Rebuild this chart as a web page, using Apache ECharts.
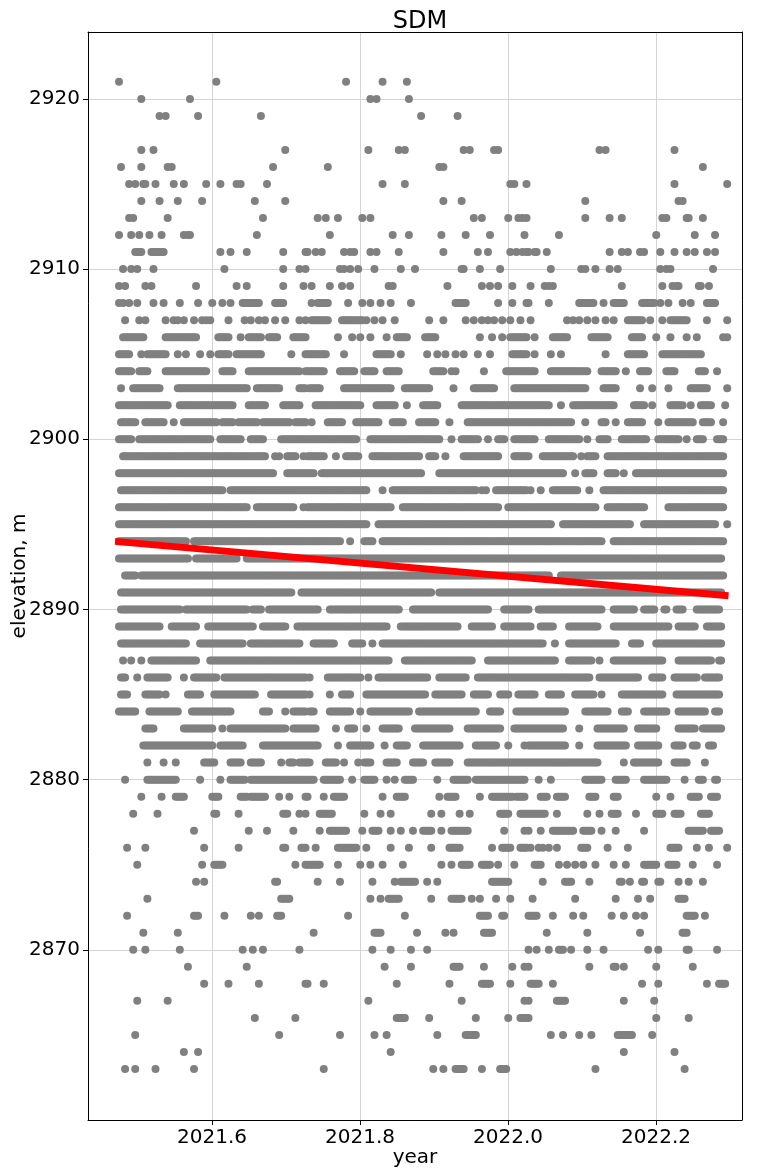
<!DOCTYPE html>
<html><head><meta charset="utf-8">
<script src="https://cdn.jsdelivr.net/npm/echarts@6/dist/echarts.min.js"></script>
<style>html,body{margin:0;padding:0;background:#fff}#c{width:764px;height:1175px}</style>
</head><body><div id="c"></div>
<script>
// time of first sample (decimal year); samples are daily
const startYear = 2021.4743;
const daysPerYear = 365;
// elevation levels (m), top to bottom
const levels = [2921,2920,2919,2918,2917,2916,2915,2914,2913,2912,2911,2910,2909,2908,2907,2906,2905,2904,2903,2902,2901,2900,2899,2898,2897,2896,2895,2894,2893,2892,2891,2890,2889,2888,2887,2886,2885,2884,2883,2882,2881,2880,2879,2878,2877,2876,2875,2874,2873,2872,2871,2870,2869,2868,2867,2866,2865,2864,2863];
// day indices (since first sample) where each level is observed; [a,b] = every day from a to b
const dayRuns = [
/*2921*/[0,48,112,130,142],
/*2920*/[11,35,124,127,143],
/*2919*/[20,23,39,70,149,167],
/*2918*/[],
/*2917*/[11,17,82,123,138,141,170,173,185,187,237,240,274],
/*2916*/[1,11,24,26,76,103,158,160,288],
/*2915*/[5,8,12,13,18,27,32,43,50,58,60,73,130,141,193,195,201,274,300],
/*2914*/[11,20,29,41,67,82,160,169,230,276,278],
/*2913*/[5,7,24,71,98,102,108,120,124,175,179,192,197,199,201,230,242,248,268,270,280,281,288],
/*2912*/[0,6,10,15,21,32,34,35,68,104,135,143,159,171,183,200,217,265,284,294],
/*2911*/[[8,11],[16,22],50,55,63,81,92,93,97,100,111,114,116,124,127,138,160,177,182,193,196,199,201,202,205,206,211,242,248,251,257,259,267,274,280,284,290,294],
/*2910*/[2,6,9,17,52,81,89,92,109,111,114,118,126,139,146,169,170,178,188,213,228,230,235,242,246,267,270,272,293],
/*2909*/[0,3,13,16,38,58,63,81,91,95,104,110,114,133,135,162,179,183,187,194,203,210,212,214,248,268,273,275,276,286,287,291],
/*2908*/[0,2,5,9,17,22,30,39,46,51,55,[61,69],[77,81],95,[98,103],113,120,124,129,134,144,[166,171],187,194,201,202,212,[227,234],239,[244,249],[258,264],267,271,278,282,[290,294]],
/*2907*/[3,10,13,23,27,29,32,37,41,43,45,54,62,65,69,72,77,82,89,92,[95,103],[110,120],122,126,130,136,153,160,171,175,179,182,185,189,193,198,203,221,224,227,231,235,240,244,[251,258],262,268,[272,280],290,300],
/*2906*/[[2,12],[23,38],[49,54],60,[64,70],[74,78],[86,92],108,115,119,124,132,[137,142],[151,156],178,184,189,[193,201],205,[214,221],[233,241],[253,258],265,272,280,285,298,300],
/*2905*/[[0,5],11,[14,23],29,33,40,45,[49,54],[58,70],85,92,[93,102],111,[127,134],139,152,157,161,166,170,177,183,[194,201],205,213,218,240,[251,259],[268,287]],
/*2904*/[[0,6],[10,14],[23,43],[51,56],[64,89],92,[93,101],[109,116],[121,126],[132,138],[155,160],164,166,180,[191,201],[202,205],[213,231],[238,245],250,[257,261],[270,274],[286,289],295],
/*2903*/[1,[7,20],[29,63],[68,79],[89,92],[94,99],[111,134],[141,153],165,[175,185],[195,201],[202,230],[239,245],257,263,271,[282,290],300],
/*2902*/[[0,24],[30,56],[64,72],[81,89],[97,119],[127,136],142,[150,157],[169,201],[202,212],218,[224,244],[254,259],263,[272,278],282,[287,292],299],
/*2901*/[[1,8],[13,22],27,[32,48],[51,56],[59,68],[71,84],[87,92],95,[103,110],[117,128],[135,140],[148,156],163,[172,201],[202,223],230,[238,240],245,[251,258],266,[271,283],[288,292],298],
/*2900*/[[0,6],[10,45],[50,60],[65,71],[80,92],[93,117],[124,158],164,[169,177],182,[187,190],[195,201],[202,205],[212,227],231,[237,241],[248,260],[266,276],280,[285,288],[295,298]],
/*2899*/[[2,72],77,79,[83,87],91,[93,101],107,[112,118],[125,148],[153,156],161,[170,187],[195,201],202,[209,224],228,[231,235],[241,298]],
/*2898*/[[0,76],[83,92],[93,96],[100,149],[158,201],[202,219],225,[230,234],[241,245],249,[255,298]],
/*2897*/[[1,51],[55,92],[93,122],130,[135,176],179,181,[186,201],203,208,[214,226],232,[239,298]],
/*2896*/[[0,63],[68,86],91,[93,134],[140,187],[192,201],[202,235],[241,259],[271,298]],
/*2895*/[[0,122],[128,213],[219,252],[259,294],300],
/*2894*/[[0,33],[37,109],114,[121,125],[130,238],[244,298]],
/*2893*/[[0,34],[38,58],[63,297]],
/*2892*/[[3,8],[11,212],[218,298]],
/*2891*/[[1,85],[90,154],[158,297]],
/*2890*/[[1,30],[33,63],[66,70],[74,98],[104,138],[145,182],[190,202],[207,238],[244,254],[259,264],[269,270],[275,278],[285,296]],
/*2889*/[[0,20],[26,38],[44,66],[71,82],[88,132],[139,167],[174,184],[190,203],[208,214],[222,236],[244,271],[276,284],[290,297]],
/*2888*/[[1,33],[40,61],[65,89],[96,106],[115,120],125,[130,209],215,[222,245],[253,257],[265,297]],
/*2887*/[2,6,11,[16,38],[45,133],[141,174],[182,215],[222,233],237,[244,268],[276,292],[296,297]],
/*2886*/[[1,3],9,[14,24],32,[37,48],[52,92],94,[103,119],123,[128,152],[158,171],[177,232],[237,256],[263,268],[274,285],[289,296]],
/*2885*/[[1,4],[13,20],23,[34,40],[47,67],[75,92],94,104,[110,114],[122,151],[156,169],[175,182],[188,192],[197,205],[212,218],[225,234],238,[248,268],[275,296]],
/*2884*/[[0,8],[15,29],[36,55],[71,74],82,[86,92],[94,96],[104,114],119,[124,143],[148,176],[183,188],[196,220],[230,241],[248,251],[259,270],[276,289],[294,296]],
/*2883*/[[13,17],[32,46],51,[55,82],[86,97],107,[113,116],122,[130,138],[146,163],[172,188],[195,219],227,[236,249],[256,265],[276,284],[288,297]],
/*2882*/[[12,46],[50,61],[71,98],108,[114,124],131,[137,142],[150,168],[176,186],192,200,[202,220],227,[236,250],[256,266],[274,278],[283,285],[291,293]],
/*2881*/[14,22,28,[42,47],[55,60],[65,70],80,[84,86],[89,94],[102,107],111,118,[121,124],[132,137],[145,150],[156,163],[172,236],249,[254,266],[274,280],289],
/*2880*/[3,[14,28],40,50,[55,62],[65,96],[101,109],115,[121,126],132,136,[141,145],157,[165,172],[176,200],207,213,[230,238],[245,250],[259,270],279,[286,288],[294,295]],
/*2879*/[11,21,[28,32],[46,49],[60,63],[65,72],79,84,[92,93],101,[106,111],130,[137,141],158,[162,166],178,[184,194],[196,200],[208,211],[216,220],[232,235],[244,246],265,272,[282,286],[292,295]],
/*2878*/[7,19,47,48,59,[81,83],89,92,[99,105],121,129,134,154,159,168,173,[188,192],[198,210],216,231,237,[243,246],255,[265,268],[274,277],[287,291]],
/*2877*/[37,64,73,86,99,[104,112],120,[125,128],134,139,145,[150,154],159,[164,172],190,200,202,208,[214,224],[229,233],238,245,259,[281,288],[292,296]],
/*2876*/[4,13,42,59,[81,82],[90,92],97,[108,117],122,134,143,154,[163,168],184,[189,193],[198,201],203,207,209,212,216,[228,231],241,251,[272,276],285,291,300],
/*2875*/[9,41,[47,51],87,92,[93,99],108,119,124,130,140,159,164,[169,173],[179,183],187,195,[205,208],217,221,225,229,235,244,250,[259,265],[271,275],283,295],
/*2874*/[38,42,[77,78],98,109,125,136,[139,146],152,157,[184,192],209,[220,223],232,[247,248],252,[258,259],[266,267],276,281,288],
/*2873*/[14,[80,84],124,129,[133,138],154,[164,169],174,178,186,193,204,225,245,256,262,[276,279]],
/*2872*/[4,[37,39],52,65,69,[78,80],113,141,[178,182],[189,190],[202,206],214,224,229,243,249,255,259,[280,284],289],
/*2871*/[12,29,96,[126,129],147,161,165,[180,184],211,231,257,[278,280]],
/*2870*/[7,13,30,61,66,71,89,125,134,144,152,202,206,212,[217,219],223,231,239,261,266,[280,281],295],
/*2869*/[34,63,131,144,[165,168],180,194,200,202,232,[244,245],249,265,283],
/*2868*/[42,54,69,92,93,101,137,163,[179,183],193,[203,207],214,258,266,290,[296,299]],
/*2867*/[9,24,123,169,200,202,[216,220],249,264],
/*2866*/[67,87,[137,141],153,176,192,[198,202],265,281],
/*2865*/[8,79,109,126,132,157,[171,176],213,219,227,233,[246,253],263],
/*2864*/[32,39,134,249,274],
/*2863*/[3,8,18,37,101,155,160,[166,170],179,[188,191],235,279]
];
// fitted trend line endpoints
const trendYears = [2021.469, 2022.298];
const trendElev = [2894.0, 2890.8];
// axis ranges
const xRange = [2021.4324, 2022.3162];
const yRange = [2860.0, 2923.93];

const points = [];
levels.forEach((lv, i) => {
  dayRuns[i].forEach(item => {
    if (Array.isArray(item)) {
      for (let d = item[0]; d <= item[1]; d++) points.push([startYear + d / daysPerYear, lv]);
    } else {
      points.push([startYear + item / daysPerYear, lv]);
    }
  });
});
const trend = trendYears.map((t, i) => [t, trendElev[i]]);

const FONT = 'DejaVu Sans';
const frameAxis = {
  axisLine: {show: true, onZero: false, lineStyle: {color: '#000', width: 1}},
  axisTick: {show: false}, axisLabel: {show: false}, splitLine: {show: false}
};
const chart = echarts.init(document.getElementById('c'), null, {renderer: 'canvas'});
chart.setOption({
  animation: false,
  backgroundColor: '#fff',
  title: {
    text: 'SDM', left: 415, top: 5, textAlign: 'center',
    textStyle: {fontFamily: FONT, fontSize: 24, fontWeight: 'normal', color: '#000'}
  },
  grid: {left: 88, right: 22, top: 32, bottom: 55, show: false, containLabel: false, outerBoundsMode: 'none'},
  xAxis: [{
    type: 'value', min: xRange[0], max: xRange[1], position: 'bottom',
    name: 'year', nameLocation: 'middle', nameGap: 28, nameMoveOverlap: false,
    nameTextStyle: {fontFamily: FONT, fontSize: 20, color: '#000'},
    axisLine: {show: true, onZero: false, lineStyle: {color: '#000', width: 1}},
    axisTick: {show: true, length: 5, lineStyle: {color: '#000', width: 1}},
    axisLabel: {showMinLabel: false, showMaxLabel: false, margin: 8, fontFamily: FONT, fontSize: 20, color: '#000', formatter: v => v.toFixed(1)},
    splitLine: {show: true, lineStyle: {color: '#d4d4d4', width: 1}}
  }, Object.assign({type: 'value', min: xRange[0], max: xRange[1], position: 'top'}, frameAxis)],
  yAxis: [{
    type: 'value', min: yRange[0], max: yRange[1], position: 'left',
    name: 'elevation, m', nameLocation: 'middle', nameGap: 58, nameRotate: 90, nameMoveOverlap: false,
    nameTextStyle: {fontFamily: FONT, fontSize: 20, color: '#000'},
    axisLine: {show: true, onZero: false, lineStyle: {color: '#000', width: 1}},
    axisTick: {show: true, length: 5, lineStyle: {color: '#000', width: 1}},
    axisLabel: {showMinLabel: false, showMaxLabel: false, margin: 8, fontFamily: FONT, fontSize: 20, color: '#000', formatter: v => v.toFixed(0)},
    splitLine: {show: true, lineStyle: {color: '#d4d4d4', width: 1}}
  }, Object.assign({type: 'value', min: yRange[0], max: yRange[1], position: 'right'}, frameAxis)],
  series: [
    {type: 'scatter', data: points, symbolSize: 8, itemStyle: {color: '#808080', opacity: 1}, silent: true, z: 2},
    {type: 'line', data: trend, showSymbol: false, symbol: 'none', lineStyle: {color: '#ff0000', width: 7}, silent: true, z: 3}
  ]
});
</script></body></html>
